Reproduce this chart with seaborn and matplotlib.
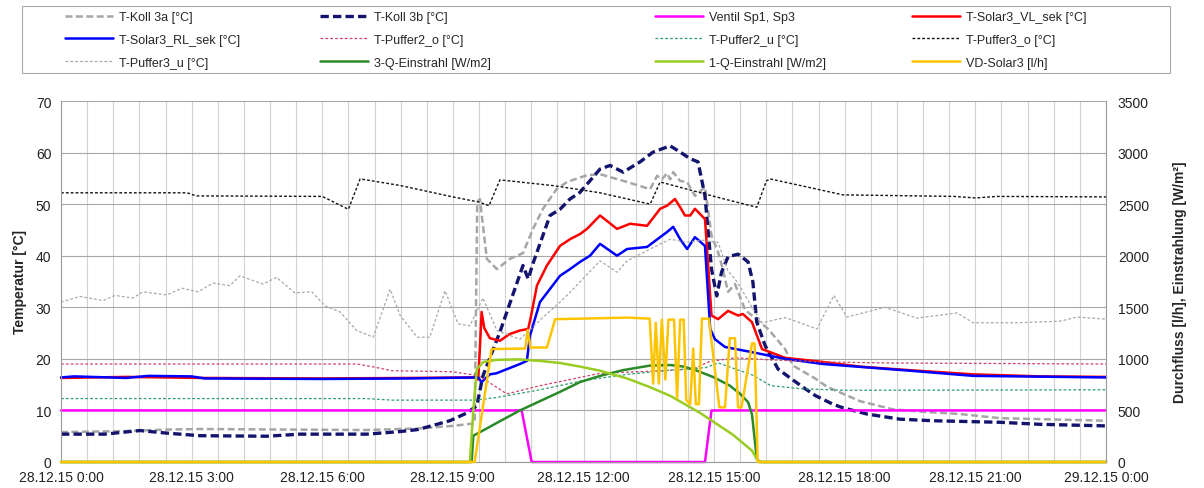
import matplotlib
matplotlib.use("Agg")
import matplotlib.pyplot as plt
from matplotlib.ticker import MultipleLocator, FixedLocator
from matplotlib.patches import Rectangle
import seaborn as sns

sns.set_theme(style="white")
plt.rcParams['font.family'] = ['Liberation Sans', 'DejaVu Sans']
plt.rcParams['lines.scale_dashes'] = False

# ---------------- data (time in hours since 28.12.15 0:00) ----------------
x_tick_hours = [0, 3, 6, 9, 12, 15, 18, 21, 24]
x_tick_labels = ["28.12.15 0:00", "28.12.15 3:00", "28.12.15 6:00", "28.12.15 9:00",
                 "28.12.15 12:00", "28.12.15 15:00", "28.12.15 18:00", "28.12.15 21:00",
                 "29.12.15 0:00"]
left_ticks = [0, 10, 20, 30, 40, 50, 60, 70]
right_ticks = [0, 500, 1000, 1500, 2000, 2500, 3000, 3500]

koll3a_t = [0, 1.5, 2.5, 3.2, 5.0, 7.0, 8.2, 9.0, 9.5, 9.56, 9.62, 9.78, 10.01, 10.31, 10.61,
            10.84, 11.07, 11.38, 11.62, 12.08, 12.38, 13.0, 13.53, 13.69, 13.8, 13.92, 13.99,
            14.06, 14.22, 14.38, 14.56, 14.79, 14.94, 15.09, 15.18, 15.32, 15.48, 15.71, 15.87,
            16.24, 16.63, 16.81, 17.32, 17.59, 18.35, 19.11, 19.89, 20.65, 21.57, 24.0]
koll3a_v = [5.8, 6.0, 6.3, 6.4, 6.3, 6.2, 6.5, 7.0, 7.5, 50.4, 51.0, 39.4, 37.4, 39.4, 40.5,
            45.2, 49.1, 52.9, 54.3, 55.6, 55.8, 54.3, 52.9, 55.5, 54.8, 56.0, 54.8,
            56.2, 54.5, 54.3, 51.6, 53.3, 43.9, 40.7, 38.0, 33.0, 34.5, 29.5, 28.4,
            25.8, 21.9, 18.7, 16.2, 14.6, 11.8, 10.2, 9.7, 9.3, 8.5, 8.0]

koll3b_t = [0, 1.0, 1.81, 2.43, 3.19, 4.73, 5.49, 7.03, 7.79, 8.2, 8.93, 9.32, 9.55, 9.69,
            10.08, 10.61, 10.73, 10.84, 11.23, 11.46, 11.69, 11.92, 12.38, 12.61, 12.91, 13.3,
            13.6, 13.99, 14.22, 14.45, 14.63, 14.79, 14.94, 15.06, 15.17, 15.32, 15.55, 15.78,
            15.89, 15.98, 16.17, 16.47, 17.04, 17.32, 17.73, 17.96, 18.51, 19.27, 20.03, 21.57,
            22.5, 24.0]
koll3b_v = [5.4, 5.4, 6.1, 5.6, 5.1, 5.0, 5.4, 5.4, 5.9, 6.3, 8.0, 9.5, 10.9, 16.7,
            25.2, 38.1, 35.5, 38.5, 47.8, 49.0, 51.0, 52.3, 56.8, 57.5, 56.2, 58.2,
            60.1, 61.3, 60.1, 58.8, 58.2, 51.6, 37.4, 32.2, 36.8, 39.8, 40.3, 38.8,
            34.9, 27.1, 22.6, 18.0, 14.5, 12.9, 11.2, 10.5, 9.3, 8.3, 8.0, 7.7,
            7.3, 7.0]

ventil_t = [0, 10.58, 10.81, 14.79, 14.94, 24.0]
ventil_v = [10, 10, 0, 0, 10, 10]

vl_t = [0, 1.5, 3.2, 6.0, 8.0, 9.5, 9.58, 9.62, 9.66, 9.72, 9.85, 10.08, 10.3, 10.54, 10.73,
        10.8, 10.93, 11.16, 11.46, 11.69, 11.92, 12.08, 12.38, 12.77, 13.07, 13.46, 13.76,
        13.92, 14.1, 14.22, 14.33, 14.45, 14.56, 14.79, 14.94, 15.09, 15.32, 15.55, 15.66,
        15.87, 16.1, 16.63, 17.5, 18.35, 19.5, 20.95, 22.5, 24.0]
vl_v = [16.3, 16.5, 16.3, 16.2, 16.3, 16.4, 16.0, 22.0, 29.1, 26.0, 24.0, 23.5, 24.8, 25.5, 25.8,
        28.5, 34.2, 38.1, 41.9, 43.2, 44.2, 45.2, 47.8, 45.2, 46.2, 45.8, 49.1,
        49.7, 51.0, 49.4, 47.8, 47.8, 49.1, 47.1, 28.4, 27.7, 29.3, 28.4, 28.7,
        27.1, 21.9, 20.2, 19.4, 18.5, 17.8, 17.0, 16.6, 16.5]

rl_t = [0, 0.3, 1.5, 2.0, 3.0, 3.3, 6.0, 8.0, 9.58, 9.66, 9.85, 10.0, 10.54, 10.7, 10.77,
        11.0, 11.46, 11.69, 11.92, 12.15, 12.38, 12.77, 13.0, 13.46, 13.76, 13.92, 14.06,
        14.22, 14.38, 14.56, 14.79, 14.91, 15.02, 15.25, 15.87, 16.63, 17.5, 19.5, 20.95, 24.0]
rl_v = [16.4, 16.6, 16.3, 16.7, 16.6, 16.2, 16.1, 16.2, 16.4, 15.5, 17.0, 17.2, 19.0, 19.6, 24.5,
        31.0, 36.1, 37.4, 38.8, 40.0, 42.3, 40.0, 41.3, 41.7, 43.6, 44.6, 45.6,
        43.2, 41.3, 43.6, 41.9, 25.8, 23.8, 22.3, 21.3, 20.0, 19.0, 17.7, 16.7, 16.4]

p2o_t = [0, 6.8, 7.2, 7.6, 9.0, 9.6, 10.24, 11.0, 11.69, 12.38, 13.5, 14.5, 14.9, 15.5, 16.3,
         17.5, 19.0, 24.0]
p2o_v = [19.0, 19.0, 18.4, 17.7, 17.5, 16.7, 13.2, 14.8, 16.0, 17.2, 17.6, 18.0, 19.5, 20.2, 19.8,
         19.4, 19.2, 19.0]

p2u_t = [0, 7.0, 7.6, 9.5, 10.0, 11.0, 12.0, 13.0, 14.0, 14.8, 15.1, 15.9, 16.3, 17.0, 18.0, 24.0]
p2u_v = [12.3, 12.3, 12.0, 12.0, 12.5, 14.0, 15.8, 17.0, 17.8, 18.3, 19.2, 16.8, 14.8, 14.2, 13.9, 14.0]

p3o_t = [0, 2.9, 3.1, 6.0, 6.6, 6.87, 7.8, 9.0, 9.6, 9.83, 10.08, 11.3, 12.38, 13.53, 13.76,
         15.0, 15.98, 16.2, 16.28, 17.96, 20.5, 21.0, 21.5, 24.0]
p3o_v = [52.2, 52.2, 51.6, 51.5, 49.0, 54.9, 53.6, 51.4, 50.4, 49.7, 54.7, 53.6, 52.2, 50.0, 54.3,
         51.5, 49.4, 54.5, 54.9, 51.8, 51.5, 51.2, 51.5, 51.4]

p3u_t = [0, 0.44, 0.97, 1.24, 1.65, 1.88, 2.43, 2.78, 3.15, 3.49, 3.88, 4.11, 4.64, 4.95, 5.37,
         5.76, 6.06, 6.41, 6.79, 7.17, 7.56, 7.79, 8.18, 8.47, 8.82, 9.12, 9.39, 9.69, 10.01,
         10.54, 11.0, 11.46, 11.69, 12.38, 12.77, 13.0, 13.53, 13.99, 14.38, 14.74, 15.09,
         15.32, 15.48, 15.63, 15.87, 16.1, 16.63, 16.74, 17.36, 17.75, 18.05, 18.92, 19.66,
         20.58, 20.95, 21.96, 22.94, 23.33, 24.0]
p3u_v = [31.0, 32.1, 31.3, 32.3, 31.8, 33.0, 32.4, 33.7, 33.0, 34.7, 34.2, 36.1, 34.5, 35.8, 32.8,
         33.0, 30.3, 29.1, 25.5, 24.2, 33.5, 28.4, 24.2, 24.2, 33.2, 26.8, 26.4, 31.8, 25.5,
         23.8, 27.5, 31.0, 32.9, 39.0, 36.8, 39.0, 41.3, 43.2, 42.6, 43.0, 42.6,
         37.0, 35.5, 33.5, 30.0, 27.0, 28.0, 27.7, 25.8, 32.3, 28.1, 30.0, 27.9,
         28.9, 27.0, 27.0, 27.3, 28.1, 27.7]

q3_t = [0, 9.43, 9.47, 9.8, 10.1, 10.54, 11.0, 11.46, 11.92, 12.38, 12.9, 13.53, 14.0, 14.3,
        14.61, 15.0, 15.36, 15.6, 15.78, 15.87, 15.98, 16.05, 24.0]
q3_v = [0, 0, 255, 330, 400, 500, 590, 680, 775, 835, 890, 935, 940, 925,
        885, 820, 740, 660, 580, 460, 30, 0, 0]

q1_t = [0, 9.39, 9.47, 9.55, 9.7, 10.0, 10.5, 11.0, 11.46, 11.92, 12.38, 13.0, 13.53, 14.0,
        14.33, 14.68, 15.09, 15.43, 15.87, 16.0, 16.1, 24.0]
q1_v = [0, 0, 500, 900, 970, 990, 995, 980, 960, 925, 885, 810, 725, 640,
        560, 475, 360, 265, 110, 15, 0, 0]

vd_t = [0, 9.5, 9.89, 10.66, 10.72, 10.78, 11.16, 11.35, 12.5, 13.0, 13.52, 13.6, 13.66, 13.73,
        13.8, 13.88, 13.95, 14.08, 14.15, 14.22, 14.3, 14.36, 14.45, 14.52, 14.58, 14.65,
        14.72, 14.88, 15.12, 15.25, 15.36, 15.48, 15.55, 15.63, 15.87, 15.93, 16.0, 24.0]
vd_v = [0, 0, 1095, 1100, 1280, 1110, 1110, 1385, 1395, 1400, 1390, 760, 1350, 760,
        1380, 800, 1380, 1380, 620, 1380, 1380, 600, 560, 1100, 560, 560,
        1390, 1390, 530, 530, 1200, 1200, 530, 530, 1150, 1150, 0, 0]

# ---------------- figure ----------------
W, H = 1204, 489
fig = plt.figure(figsize=(W / 100, H / 100), dpi=100)
ax = fig.add_axes([61 / W, 1 - 463 / H, (1106 - 61) / W, (463 - 102) / H])
ax2 = ax.twinx()

series = [
    # label, t, v, axis, color, lw, dashes
    ("T-Koll 3a [°C]", koll3a_t, koll3a_v, ax, "#a6a6a6", 1.8, (5, 2.5)),
    ("T-Koll 3b [°C]", koll3b_t, koll3b_v, ax, "#14146e", 2.4, (6, 3)),
    ("Ventil Sp1, Sp3", ventil_t, ventil_v, ax, "#ff00ff", 1.8, None),
    ("T-Solar3_VL_sek [°C]", vl_t, vl_v, ax, "#ff0000", 1.8, None),
    ("T-Solar3_RL_sek [°C]", rl_t, rl_v, ax, "#0000ff", 1.8, None),
    ("T-Puffer2_o [°C]", p2o_t, p2o_v, ax, "#cc4466", 0.9, (2, 1.5)),
    ("T-Puffer2_u [°C]", p2u_t, p2u_v, ax, "#2e9e6e", 0.9, (2, 1.5)),
    ("T-Puffer3_o [°C]", p3o_t, p3o_v, ax, "#111111", 1.0, (2, 1.5)),
    ("T-Puffer3_u [°C]", p3u_t, p3u_v, ax, "#a8a8a8", 0.9, (2, 1.5)),
    ("3-Q-Einstrahl [W/m2]", q3_t, q3_v, ax2, "#2a8a2a", 1.8, None),
    ("1-Q-Einstrahl [W/m2]", q1_t, q1_v, ax2, "#99cc22", 1.8, None),
    ("VD-Solar3 [l/h]", vd_t, vd_v, ax2, "#ffc400", 1.8, None),
]

handles = {}
for label, t, v, a, color, lw, dash in series:
    n_before = len(a.lines)
    sns.lineplot(x=t, y=v, ax=a, color=color, linewidth=lw, estimator=None,
                 sort=False, errorbar=None, legend=False)
    line = a.lines[n_before]
    if dash is not None:
        line.set_dashes(dash)
    line.set_clip_on(False)
    handles[label] = line

# axes limits, ticks, grid
ax.set_xlim(0, 24)
ax.set_ylim(0, 70)
ax2.set_ylim(0, 3500)
ax.xaxis.set_major_locator(FixedLocator(x_tick_hours))
ax.set_xticklabels(x_tick_labels)
ax.xaxis.set_minor_locator(MultipleLocator(0.6))
ax.set_yticks(left_ticks)
ax2.set_yticks(right_ticks)
ax.set_xlabel("")
ax2.set_xlabel("")

ax.grid(False)
ax2.grid(False)
ax.grid(True, axis="x", which="both", color="#d2d2d2", linewidth=0.8)
ax.grid(True, axis="y", which="major", color="#a8a8a8", linewidth=0.8)
ax.set_axisbelow(True)

for a in (ax, ax2):
    for s in a.spines.values():
        s.set_visible(False)
ax.spines["bottom"].set_visible(True)
ax.spines["bottom"].set_color("#9a9a9a")
ax.spines["left"].set_visible(True)
ax.spines["left"].set_color("#9a9a9a")
ax2.spines["right"].set_visible(True)
ax2.spines["right"].set_color("#9a9a9a")
for s in ("bottom", "left"):
    ax.spines[s].set_linewidth(0.8)
ax2.spines["right"].set_linewidth(0.8)

ax.tick_params(axis="x", which="both", length=0, pad=6, labelsize=10, colors="#222222")
ax.tick_params(axis="y", length=0, pad=7, labelsize=10, colors="#222222")
ax2.tick_params(axis="y", length=0, pad=8.5, labelsize=10, colors="#222222")

ax.set_ylabel("Temperatur [°C]", fontsize=10, fontweight="bold", labelpad=6)
ax2.set_ylabel("Durchfluss [l/h], Einstrahlung [W/m²]", fontsize=10, fontweight="bold",
               labelpad=17)

# legend: four single-column legends inside one frame (row-major layout as in Excel)
legend_columns = [
    ["T-Koll 3a [°C]", "T-Solar3_RL_sek [°C]", "T-Puffer3_u [°C]"],
    ["T-Koll 3b [°C]", "T-Puffer2_o [°C]", "3-Q-Einstrahl [W/m2]"],
    ["Ventil Sp1, Sp3", "T-Puffer2_u [°C]", "1-Q-Einstrahl [W/m2]"],
    ["T-Solar3_VL_sek [°C]", "T-Puffer3_o [°C]", "VD-Solar3 [l/h]"],
]
col_x = [65, 320, 655, 912]
for cx, labels in zip(col_x, legend_columns):
    fig.legend([handles[k] for k in labels], labels, ncol=1,
               loc="upper left", bbox_to_anchor=(cx / W, 1 - 12 / H),
               fontsize=9, handlelength=3.8, handletextpad=0.5, labelspacing=0.86,
               borderpad=0, borderaxespad=0, frameon=False)
fig.add_artist(Rectangle((22 / W, 1 - 74 / H), (1170 - 22) / W, 67 / H,
                         transform=fig.transFigure, fill=False,
                         edgecolor="#a8a8a8", linewidth=0.8))

fig.savefig("out.png", dpi=100)
